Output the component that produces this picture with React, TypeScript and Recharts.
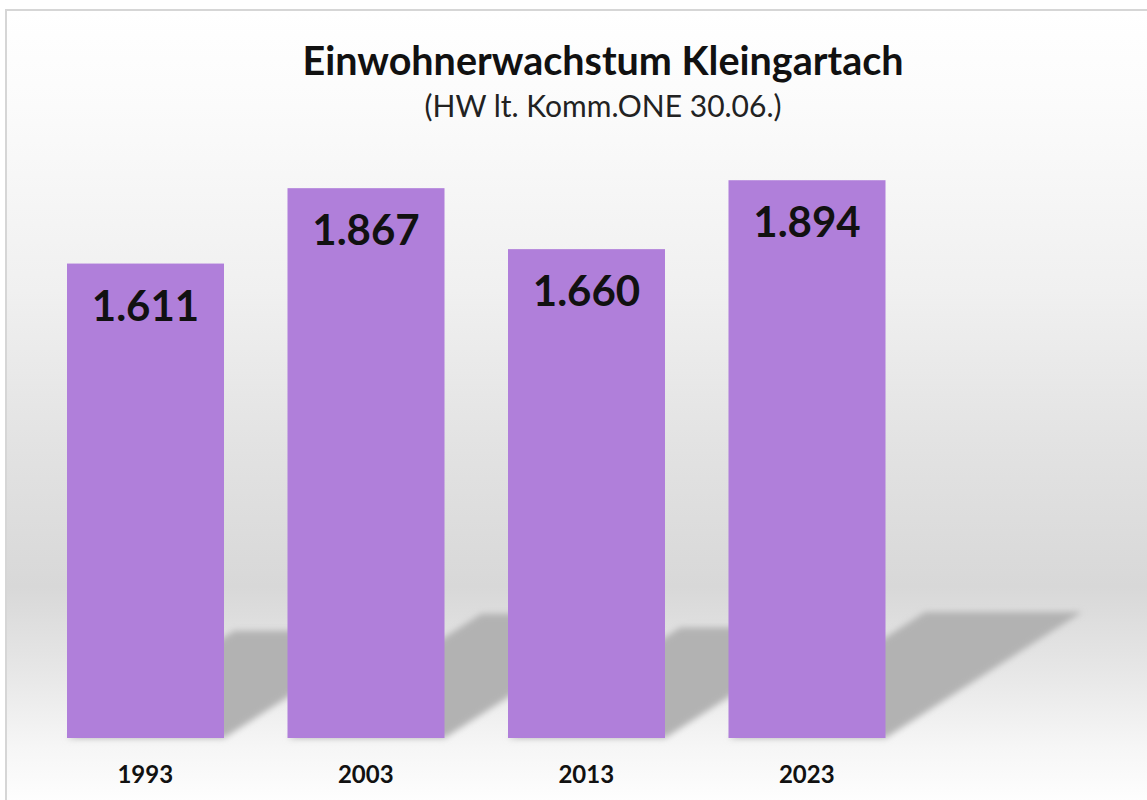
import React from 'react';
import { BarChart, Bar, XAxis, YAxis, LabelList } from 'recharts';

const years = ['1993', '2003', '2013', '2023'];
const residents = [1611, 1867, 1660, 1894];
const yDomain = [0, 2000];

const titleText = 'Einwohnerwachstum Kleingartach';
const subtitleText = '(HW lt. Komm.ONE 30.06.)';

const data = years.map((y, i) => ({ year: y, value: residents[i] }));

const FONT = 'Lato, "Open Sans", sans-serif';
const BAR_COLOR = '#B07FDA';

const fmt = (v: number) => {
  const s = String(Math.round(v));
  return s.replace(/\B(?=(\d{3})+(?!\d))/g, '.');
};

const ShadowBar = (props: any) => {
  const { x, y, width, height } = props;
  const base = y + height;
  const sh = height * 0.226;
  const dx = sh * 1.56;
  const pts = [
    [x, base],
    [x + width, base],
    [x + width + dx, base - sh],
    [x + dx, base - sh],
  ]
    .map((p) => p.join(','))
    .join(' ');
  return (
    <g>
      <polygon points={pts} fill="#b2b2b2" filter="url(#shadowBlur)" />
      <rect x={x} y={y} width={width} height={height} fill={BAR_COLOR} />
    </g>
  );
};

const ValueLabel = (props: any) => {
  const { x, y, width, value } = props;
  return (
    <text
      x={x + width / 2}
      y={y + 41}
      textAnchor="middle"
      dominantBaseline="central"
      fontFamily={FONT}
      fontWeight={700}
      fontSize={42}
      fill="#111"
    >
      {fmt(value)}
    </text>
  );
};

const YearTick = (props: any) => {
  const { x, y, payload } = props;
  return (
    <text
      x={x}
      y={y + 27}
      textAnchor="middle"
      dominantBaseline="central"
      fontFamily={FONT}
      fontWeight={700}
      fontSize={24}
      fill="#111"
    >
      {payload.value}
    </text>
  );
};

export default function App() {
  return (
    <div
      style={{
        position: 'absolute',
        left: 0,
        top: 0,
        width: 1147,
        height: 800,
        background: '#ffffff',
        overflow: 'hidden',
      }}
    >
      <div
        style={{
          position: 'absolute',
          left: 5,
          top: 9,
          width: 1160,
          height: 800,
          borderLeft: '2px solid #d6d6d6',
          borderTop: '2px solid #d6d6d6',
          background:
            'linear-gradient(to bottom, #ffffff 0%, #fbfbfb 12%, #f0f0f0 35%, #e2e2e2 55%, #d8d8d8 72%, #e6e6e6 82%, #f6f6f6 92%, #ffffff 100%)',
        }}
      />
      <div
        style={{
          position: 'absolute',
          left: 0,
          top: 36,
          width: 1206,
          textAlign: 'center',
          fontFamily: FONT,
          fontWeight: 700,
          fontSize: 39.5,
          color: '#111',
          lineHeight: '48px',
        }}
      >
        {titleText}
      </div>
      <div
        style={{
          position: 'absolute',
          left: 0,
          top: 87,
          width: 1206,
          textAlign: 'center',
          fontFamily: FONT,
          fontWeight: 400,
          fontSize: 30,
          color: '#222',
          lineHeight: '36px',
        }}
      >
        {subtitleText}
      </div>
      <div style={{ position: 'absolute', left: 0, top: 0 }}>
        <svg width={0} height={0} style={{ position: 'absolute' }}>
          <defs>
            <filter id="shadowBlur" x="-20%" y="-20%" width="140%" height="140%">
              <feGaussianBlur stdDeviation="3" />
            </filter>
          </defs>
        </svg>
        <BarChart
          width={1147}
          height={800}
          data={data}
          margin={{ top: 149, right: 230, bottom: 32, left: 35 }}
        >
          <XAxis
            dataKey="year"
            axisLine={false}
            tickLine={false}
            height={30}
            tick={<YearTick />}
            interval={0}
          />
          <YAxis hide domain={yDomain} />
          <Bar
            dataKey="value"
            barSize={157}
            shape={<ShadowBar />}
            isAnimationActive={false}
          >
            <LabelList dataKey="value" content={<ValueLabel />} />
          </Bar>
        </BarChart>
      </div>
    </div>
  );
}
